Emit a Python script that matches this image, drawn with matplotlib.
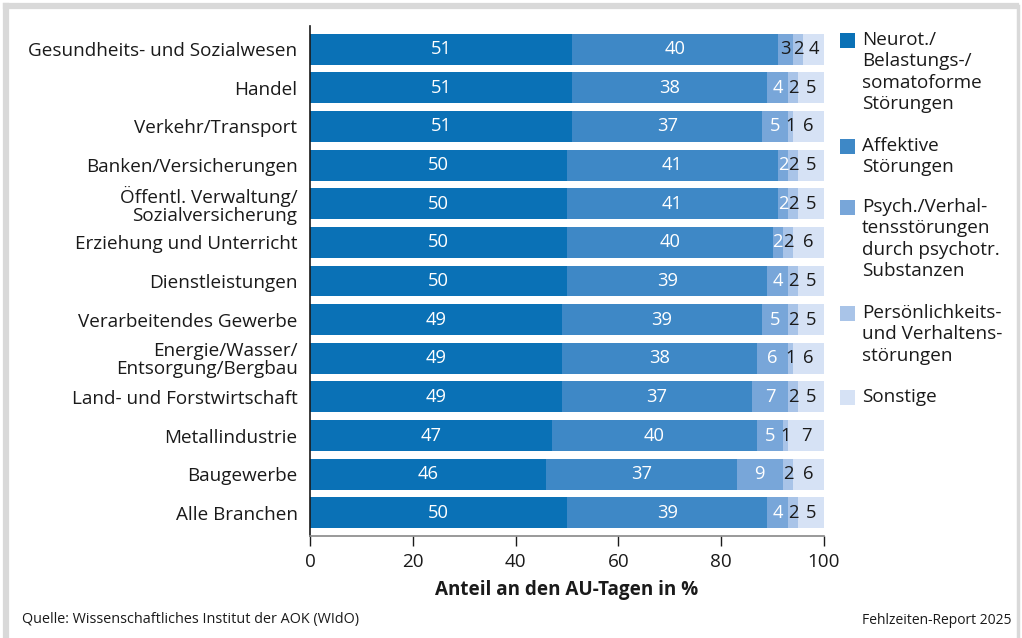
import matplotlib
matplotlib.use("Agg")
import matplotlib.pyplot as plt
from matplotlib.lines import Line2D
from matplotlib.patches import Rectangle

plt.rcParams['font.family'] = ['Open Sans', 'DejaVu Sans']

branchen = [
    "Gesundheits- und Sozialwesen",
    "Handel",
    "Verkehr/Transport",
    "Banken/Versicherungen",
    "Öffentl. Verwaltung/\nSozialversicherung",
    "Erziehung und Unterricht",
    "Dienstleistungen",
    "Verarbeitendes Gewerbe",
    "Energie/Wasser/\nEntsorgung/Bergbau",
    "Land- und Forstwirtschaft",
    "Metallindustrie",
    "Baugewerbe",
    "Alle Branchen",
]

neurot = [51, 51, 51, 50, 50, 50, 50, 49, 49, 49, 47, 46, 50]
affektiv = [40, 38, 37, 41, 41, 40, 39, 39, 38, 37, 40, 37, 39]
psychotrop = [3, 4, 5, 2, 2, 2, 4, 5, 6, 7, 5, 9, 4]
persoenlichkeit = [2, 2, 1, 2, 2, 2, 2, 2, 1, 2, 1, 2, 2]
sonstige = [4, 5, 6, 5, 5, 6, 5, 5, 6, 5, 7, 6, 5]

serien = [
    ("Neurot./\nBelastungs-/\nsomatoforme\nStörungen", neurot, "#0a71b6", "white"),
    ("Affektive\nStörungen", affektiv, "#3e88c6", "white"),
    ("Psych./Verhal-\ntensstörungen\ndurch psychotr.\nSubstanzen", psychotrop, "#78a6d9", "white"),
    ("Persönlichkeits-\nund Verhaltens-\nstörungen", persoenlichkeit, "#a9c4e8", "#1a1a1a"),
    ("Sonstige", sonstige, "#d6e2f5", "#1a1a1a"),
]

W, H = 1022, 638
fig = plt.figure(figsize=(W / 100, H / 100), dpi=100)
ax = fig.add_axes([310 / W, 1 - 536 / H, 514 / W, 510 / H])

y = list(range(len(branchen)))
left = [0] * len(branchen)
for i, (name, vals, color, txtcol) in enumerate(serien):
    bars = ax.barh(y, vals, left=left, height=0.8, color=color, edgecolor="none")
    for j, (b, v) in enumerate(zip(bars, vals)):
        cx = b.get_x() + b.get_width() / 2
        col = txtcol
        if i == 2 and v <= 3 and j == 0:
            col = "#1a1a1a"
        ax.text(cx, j, str(v), ha="center", va="center", fontsize=13.2, color=col)
    left = [l + v for l, v in zip(left, vals)]

ax.set_xlim(0, 100)
ax.set_ylim(len(branchen) - 0.4, -0.6)
ax.set_yticks(y)
ax.set_yticklabels(branchen, fontsize=13.6, color="#1a1a1a", linespacing=1.0)
ax.tick_params(axis="y", length=0, pad=9)
ax.set_xticks([0, 20, 40, 60, 80, 100])
ax.tick_params(axis="x", length=7, width=1, color="#1a1a1a", labelsize=13.6, pad=5,
               labelcolor="#1a1a1a")
ax.set_xlabel("Anteil an den AU-Tagen in %", fontsize=13.6, fontweight="bold",
              color="#1a1a1a", labelpad=7)
for s in ["top", "right"]:
    ax.spines[s].set_visible(False)
ax.spines["left"].set_color("#1a1a1a")
ax.spines["left"].set_linewidth(1.2)
ax.spines["bottom"].set_color("#888888")
ax.spines["bottom"].set_linewidth(1.2)

# legend built by hand: square + multi-line label, first line aligned with square
line_h = 21.3
entry_tops = [40, 146, 207, 313, 397]
for (name, _, color, _), ytop in zip(serien, entry_tops):
    fig.add_artist(Rectangle((840 / W, 1 - (ytop + 7.5) / H), 15 / W, 15 / H,
                             transform=fig.transFigure, facecolor=color, edgecolor="none"))
    for k, line in enumerate(name.split("\n")):
        fig.text(862 / W, 1 - (ytop + k * line_h) / H, line, fontsize=13.6,
                 color="#1a1a1a", ha="left", va="center")

fig.text(22 / W, 1 - 620 / H, "Quelle: Wissenschaftliches Institut der AOK (WIdO)",
         fontsize=10.4, color="#1a1a1a", va="center", ha="left")
fig.text(1012 / W, 1 - 620 / H, "Fehlzeiten-Report 2025",
         fontsize=10, color="#1a1a1a", va="center", ha="right")

# grey frame around the figure
frame_col = "#d9d9d9"
fig.add_artist(Line2D([6 / W, 6 / W], [0, 1 - 6 / H], transform=fig.transFigure,
                      color=frame_col, lw=4.5, solid_capstyle="projecting"))
fig.add_artist(Line2D([6 / W, 1016 / W], [1 - 6 / H, 1 - 6 / H],
                      transform=fig.transFigure, color=frame_col, lw=4.5,
                      solid_capstyle="projecting"))
fig.add_artist(Line2D([1018 / W, 1018 / W], [0, 1 - 6 / H], transform=fig.transFigure,
                      color=frame_col, lw=2.5))

fig.savefig("out.png", dpi=100)
